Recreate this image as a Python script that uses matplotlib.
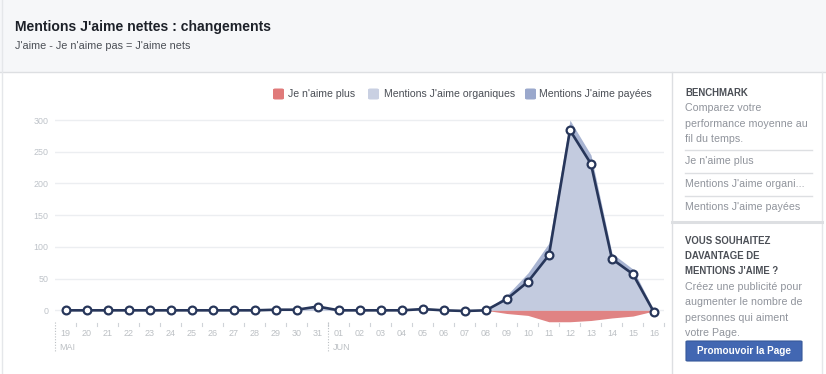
import matplotlib
matplotlib.use("Agg")
import matplotlib.pyplot as plt
from matplotlib.patches import Rectangle, FancyBboxPatch
from matplotlib.lines import Line2D
import matplotlib.transforms as mtransforms

plt.rcParams['font.family'] = ['Liberation Sans', 'DejaVu Sans']

# ---- data ----
day_labels = ['19', '20', '21', '22', '23', '24', '25', '26', '27', '28', '29', '30', '31',
              '01', '02', '03', '04', '05', '06', '07', '08', '09', '10', '11', '12', '13', '14', '15', '16']
month_labels = ['MAI', 'JUN']
month_start_idx = [0, 13]
net_likes = [0, 0, 0, 0, 0, 0, 0, 0, 0, 0, 1, 1, 6,
             0, 0, 0, 0, 2, 0, -1, 0, 18, 45, 87, 284, 231, 81, 57, -3]
organic = [0, 0, 0, 0, 0, 0, 0, 0, 0, 0, 1, 1, 6,
           0, 0, 0, 0, 2, 0, 0, 0, 18, 45, 87, 284, 231, 81, 57, 0]
paid = [0, 0, 0, 0, 0, 0, 0, 0, 0, 0, 0, 0, 0,
        0, 0, 0, 0, 0, 0, 0, 0, 6, 14, 19, 16, 14, 9, 8, 0]
unlikes = [0, 0, 0, 0, 0, 0, 0, 0, 0, 0, 0, 0, 0,
           0, 0, 0, 0, 0, 0, 1, 0, 5, 8, 18, 18, 16, 12, 9, 1]
y_ticks = [0, 50, 100, 150, 200, 250, 300]
legend_labels = ["Je n'aime plus", "Mentions J'aime organiques", "Mentions J'aime payées"]

W, H = 826, 374
fig = plt.figure(figsize=(W / 100, H / 100), dpi=100)
fig.patch.set_facecolor('white')


def fx(x):
    return x / W


def fy(y):
    return 1 - y / H


# header band
fig.add_artist(Rectangle((0, fy(72)), 1, 72 / H, transform=fig.transFigure,
                         facecolor='#f6f7f9', edgecolor='none', zorder=0))
fig.add_artist(Line2D([0, 1], [fy(72), fy(72)], transform=fig.transFigure, color='#dddfe2', lw=1))
fig.add_artist(Line2D([fx(1.5), fx(1.5)], [0, 1], transform=fig.transFigure, color='#e5e7ea', lw=1))
fig.add_artist(Line2D([fx(822), fx(822)], [0, fy(72)], transform=fig.transFigure, color='#e5e7ea', lw=1))
fig.text(fx(15), fy(27), "Mentions J'aime nettes : changements", fontsize=10.1, fontweight='bold',
         color='#1d2129', va='center', ha='left')
fig.text(fx(15), fy(46), "J'aime - Je n'aime pas = J'aime nets", fontsize=7.8,
         color='#4b4f56', va='center', ha='left')

# sidebar
fig.add_artist(Line2D([fx(671.5), fx(671.5)], [0, fy(72)], transform=fig.transFigure, color='#dddfe2', lw=1))
fig.add_artist(Line2D([fx(672), fx(822)], [fy(222), fy(222)], transform=fig.transFigure, color='#dddfe2', lw=2.2))
sb_dark = '#4b4f56'
sb_grey = '#90949c'
fig.text(fx(685), fy(93), "BENCHMARK", fontsize=6.9, fontweight='bold', color=sb_dark, va='center')
for t, y in [("Comparez votre", 108), ("performance moyenne au", 124), ("fil du temps.", 139)]:
    fig.text(fx(685), fy(y), t, fontsize=7.7, color=sb_grey, va='center')
for y in [150.5, 173, 196]:
    fig.add_artist(Line2D([fx(685), fx(812)], [fy(y), fy(y)], transform=fig.transFigure, color='#dddfe2', lw=1))
for t, y in [("Je n'aime plus", 161), ("Mentions J'aime organi...", 184), ("Mentions J'aime payées", 207)]:
    fig.text(fx(685), fy(y), t, fontsize=7.7, color=sb_grey, va='center')
for t, y in [("VOUS SOUHAITEZ", 241), ("DAVANTAGE DE", 256), ("MENTIONS J'AIME ?", 271)]:
    fig.text(fx(685), fy(y), t, fontsize=6.9, fontweight='bold', color=sb_dark, va='center')
for t, y in [("Créez une publicité pour", 287), ("augmenter le nombre de", 302),
             ("personnes qui aiment", 318), ("votre Page.", 333)]:
    fig.text(fx(685), fy(y), t, fontsize=7.7, color=sb_grey, va='center')
fig.add_artist(FancyBboxPatch((fx(686), fy(361)), fx(116), 20 / H, boxstyle='round,pad=0,rounding_size=0.002',
                              transform=fig.transFigure, facecolor='#4267b2', edgecolor='#365899', lw=0.8))
fig.text(fx(744), fy(351), "Promouvoir la Page", fontsize=7.2, fontweight='bold', color='white',
         va='center', ha='center')

# legend
leg_colors = ['#e07a7a', '#c9d0e2', '#9aa8cc']
leg_pos = [(273, 288), (368, 384), (525, 539)]
for (sx, tx), c, lab in zip(leg_pos, leg_colors, legend_labels):
    fig.add_artist(FancyBboxPatch((fx(sx), fy(99.5)), fx(11), 11 / H,
                                  boxstyle='round,pad=0,rounding_size=0.003',
                                  transform=fig.transFigure, facecolor=c, edgecolor='none'))
    fig.text(fx(tx), fy(94), lab, fontsize=7.6, color='#4b4f56', va='center', ha='left')

# chart axes
ax = fig.add_axes([fx(55.2), fy(330), fx(664.5 - 55.2), 215 / H])
x = list(range(len(day_labels)))
stack_top = [o + p for o, p in zip(organic, paid)]
neg = [-u for u in unlikes]
ax.fill_between(x, 0, organic, color='#c3cbdf', lw=0, zorder=2)
ax.fill_between(x, organic, stack_top, color='#a8b4d2', lw=0, zorder=2)
ax.fill_between(x, 0, neg, color='#e08383', lw=0, zorder=2)
ax.plot(x, net_likes, color='#27365a', lw=1.9, zorder=4, marker='o', markersize=5.6,
        markerfacecolor='white', markeredgecolor='#27365a', markeredgewidth=1.6)
ax.set_xlim(-0.5, 28.5)
ax.set_ylim(-31, 308)
ax.set_yticks(y_ticks)
ax.set_yticklabels([str(v) for v in y_ticks], fontsize=6.4, color='#bec3c9')
ax.set_xticks(x)
ax.set_xticklabels(day_labels, fontsize=6.5, color='#bcc0c4')
ax.tick_params(length=0)
ax.tick_params(axis='y', pad=5)
ax.tick_params(axis='x', pad=-1)
ax.grid(axis='y', color='#eceef1', lw=1, zorder=0)
ax.set_axisbelow(True)
for s in ax.spines.values():
    s.set_visible(False)
ax.patch.set_alpha(0)

trans = mtransforms.blended_transform_factory(ax.transData, fig.transFigure)
for i in range(len(day_labels)):
    ax.add_line(Line2D([i + 0.5, i + 0.5], [fy(322.5), fy(325.5)], transform=trans,
                       color='#cfd3d8', lw=0.8, clip_on=False))
for m, idx in zip(month_labels, month_start_idx):
    ax.add_line(Line2D([idx - 0.5, idx - 0.5], [fy(322), fy(352)], transform=trans,
                       color='#bcc0c4', lw=0.8, ls=(0, (1, 1.5)), clip_on=False))
    ax.text(idx - 0.3, fy(347), m, transform=trans, fontsize=6.5, color='#bcc0c4',
            va='center', ha='left')

fig.savefig('out.png', dpi=100)
